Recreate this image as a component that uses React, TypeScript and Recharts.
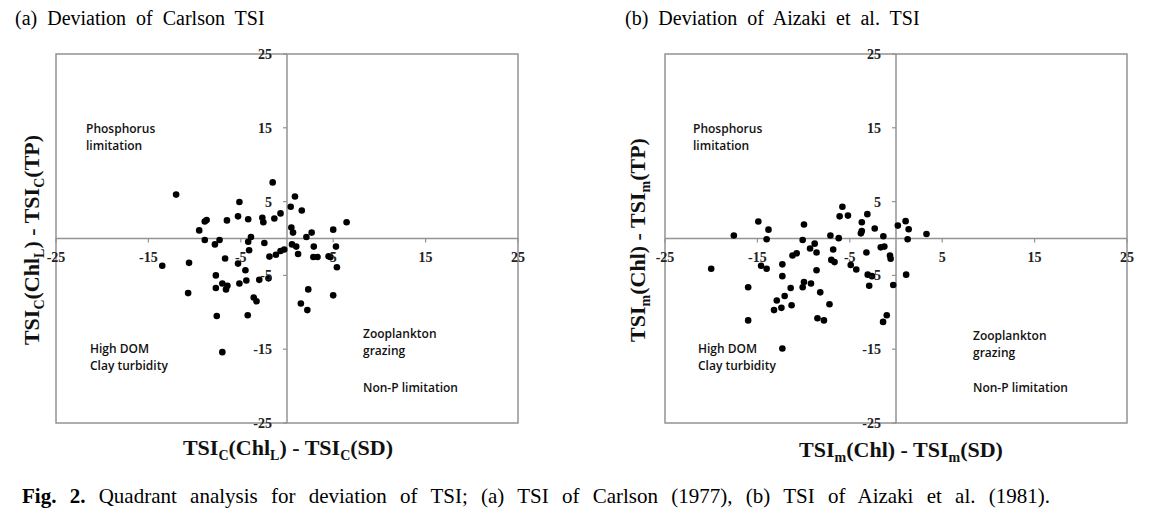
import React from 'react';
import { ScatterChart, Scatter, XAxis, YAxis, ReferenceLine, ReferenceArea } from 'recharts';

// (a) Carlson TSI deviations
const carlsonX = [
  -12.0, -1.55, 0.86, -5.15, 0.4, 1.6, -0.7, -5.3, -2.67, -1.37, -4.2, -6.5, -8.7, -8.9, -2.56, 6.45, -9.5,
  0.47, 0.65, 2.67, 5.0, 2.1, -3.9, -8.9, -7.3, -7.8, -4.2, -2.45, 0.54, 1.0, 2.9, 5.3, -0.3, -0.7, -1.2,
  -1.9, -4.1, 1.2, 2.85, 3.3, 4.5, 4.7, -6.7, -10.6, -13.5, 5.4, -5.3, -4.5, -7.7, -2.0, -3.0, -4.4, -5.15,
  -7.0, -6.45, -7.7, -6.6, 2.3, -10.7, 5.0, -3.6, -3.3, 1.5, 2.2, -7.6, -4.25, -7.0,
];
const carlsonY = [
  5.95, 7.6, 5.7, 4.95, 4.3, 3.8, 3.4, 3.0, 2.8, 2.7, 2.6, 2.45, 2.5, 2.3, 2.2, 2.2, 1.1,
  1.5, 0.8, 0.8, 1.2, 0.2, 0.2, -0.2, -0.2, -0.8, -0.45, -0.6, -0.8, -1.1, -1.1, -1.1, -1.5, -1.7, -2.2,
  -2.45, -1.6, -2.1, -2.5, -2.5, -2.4, -2.5, -2.7, -3.3, -3.7, -3.9, -3.4, -4.3, -5.0, -5.4, -5.6, -5.7, -6.1,
  -6.1, -6.4, -6.7, -6.9, -6.9, -7.4, -7.7, -8.0, -8.5, -8.8, -9.7, -10.5, -10.4, -15.4,
];

// (b) Aizaki et al. TSI deviations
const aizakiX = [
  -20.0, -17.55, -14.9, -13.8, -14.0, -14.6, -14.0, -16.0, -16.0, -12.3, -12.3, -12.3, -12.9, -12.05, -13.2,
  -12.4, -11.3, -11.4, -11.2, -10.75, -9.96, -10.1, -10.1, -9.96, -9.2, -9.3, -8.8, -8.6, -8.6, -8.2, -8.5,
  -7.8, -7.1, -7.2, -6.8, -7.0, -6.65, -6.2, -6.1, -5.8, -5.2, -4.9, -4.3, -3.7, -3.1, -3.7, -3.8, -3.2,
  -3.06, -2.6, -2.9, -2.3, -1.65, -1.26, -1.37, -0.65, -0.58, -0.3, -1.0, -1.4, 0.2, 1.04, 1.37, 1.26, 1.1, 3.3,
];
const aizakiY = [
  -4.1, 0.4, 2.3, 1.2, -0.1, -3.7, -4.1, -6.6, -11.1, -14.9, -3.5, -5.1, -8.4, -7.8, -9.7,
  -9.4, -9.05, -6.7, -2.3, -2.0, 1.9, -0.2, -6.6, -5.9, -6.1, -1.35, -0.7, -1.9, -4.3, -7.3, -10.8,
  -11.1, 0.4, -8.9, -1.5, -2.9, -3.2, 0.05, 3.0, 4.3, 3.1, -3.6, -4.2, 2.2, 3.3, 1.0, 0.7, -1.9,
  -4.9, -5.1, -6.4, 1.35, -1.2, -1.1, 0.3, -2.3, -2.75, -6.3, -10.4, -11.3, 1.75, 2.35, 1.26, -0.1, -4.9, 0.6,
];

const axisTicks = [-25, -15, -5, 5, 15, 25];

const pointsA = carlsonX.map((x, i) => ({ x, y: carlsonY[i] }));
const pointsB = aizakiX.map((x, i) => ({ x, y: aizakiY[i] }));

const SERIF = '"Liberation Serif", "Times New Roman", serif';
const SANS = '"Open Sans", "Noto Sans", sans-serif';
const GRAY = '#939393';

const CH_H = 470;
const PLOT_TOP = 54;
const PLOT_BOTTOM = 423;
const HALF_H = (PLOT_BOTTOM - PLOT_TOP) / 2;
const AX_SIZE = 30;

// ticks sit on the zero lines (axes cross at 0,0 like Excel)
const makeYTick = (halfW: number) => (props: any) => {
  const { x, y, payload } = props;
  const cx = x + halfW;
  return (
    <g>
      <line x1={cx - 4} x2={cx} y1={y} y2={y} stroke={GRAY} strokeWidth={1.2} />
      <text x={cx - 15} y={y} dy={5} textAnchor="end" fontFamily={SERIF} fontSize={14} fontWeight="bold" fill="#222">
        {payload.value}
      </text>
    </g>
  );
};

const makeXTick = () => (props: any) => {
  const { x, y, payload } = props;
  const cy = y - HALF_H;
  return (
    <g>
      <line x1={x} x2={x} y1={cy} y2={cy + 4} stroke={GRAY} strokeWidth={1.2} />
      <text x={x} y={cy + 23} textAnchor="middle" fontFamily={SERIF} fontSize={14} fontWeight="bold" fill="#222">
        {payload.value}
      </text>
    </g>
  );
};

function Note({ left, top, lines }: { left: number; top: number; lines: string[] }) {
  return (
    <div style={{ position: 'absolute', left, top, fontFamily: SANS, fontSize: 12, fontWeight: 600, lineHeight: '17px', color: '#111' }}>
      {lines.map((l, i) => (
        <div key={i} style={{ whiteSpace: 'nowrap' }}>{l}</div>
      ))}
    </div>
  );
}

const sub: React.CSSProperties = { fontSize: 14, verticalAlign: '-5px', lineHeight: 0 };
const axisTitle: React.CSSProperties = { position: 'absolute', fontFamily: SERIF, fontSize: 22, fontWeight: 'bold', whiteSpace: 'nowrap', color: '#111' };

function Quadrant({ data, width, left, right }: { data: { x: number; y: number }[]; width: number; left: number; right: number }) {
  const halfW = (width - left - right) / 2;
  return (
    <ScatterChart width={width} height={CH_H}
      margin={{ top: PLOT_TOP, bottom: CH_H - PLOT_BOTTOM - AX_SIZE, left: left - AX_SIZE, right }}>
      <XAxis type="number" dataKey="x" domain={[-25, 25]} ticks={axisTicks} height={AX_SIZE} axisLine={false}
        tickSize={0} tickMargin={0} tick={makeXTick()} allowDataOverflow interval={0} />
      <YAxis type="number" dataKey="y" domain={[-25, 25]} ticks={axisTicks} width={AX_SIZE} axisLine={false}
        tickSize={0} tickMargin={0} tick={makeYTick(halfW)} allowDataOverflow interval={0} />
      <ReferenceArea x1={-25} x2={25} y1={-25} y2={25} fill="none" fillOpacity={0} stroke={GRAY} strokeWidth={1.5} />
      <ReferenceLine x={0} stroke={GRAY} strokeWidth={1.5} />
      <ReferenceLine y={0} stroke={GRAY} strokeWidth={1.5} />
      <Scatter data={data} fill="#000" isAnimationActive={false} shape={(p: any) => <circle cx={p.cx} cy={p.cy} r={3.3} fill="#000" />} />
    </ScatterChart>
  );
}

export default function App() {
  return (
    <div style={{ position: 'absolute', left: 0, top: 0, width: 1150, height: 522, background: '#fff', overflow: 'hidden' }}>
      <div style={{ position: 'absolute', left: 15, top: 7, fontFamily: SERIF, fontSize: 20, wordSpacing: 5, whiteSpace: 'nowrap' }}>
        (a) Deviation of Carlson TSI
      </div>
      <div style={{ position: 'absolute', left: 625, top: 7, fontFamily: SERIF, fontSize: 20, wordSpacing: 5, whiteSpace: 'nowrap' }}>
        (b) Deviation of Aizaki et al. TSI
      </div>

      <div style={{ position: 'absolute', left: 0, top: 0 }}>
        <Quadrant data={pointsA} width={560} left={56} right={42} />
      </div>
      <div style={{ position: 'absolute', left: 600, top: 0 }}>
        <Quadrant data={pointsB} width={550} left={65} right={23} />
      </div>

      <Note left={86} top={120} lines={['Phosphorus', 'limitation']} />
      <Note left={90} top={340} lines={['High DOM', 'Clay turbidity']} />
      <Note left={363} top={325} lines={['Zooplankton', 'grazing']} />
      <Note left={363} top={379} lines={['Non-P limitation']} />

      <Note left={693} top={120} lines={['Phosphorus', 'limitation']} />
      <Note left={698} top={340} lines={['High DOM', 'Clay turbidity']} />
      <Note left={973} top={327} lines={['Zooplankton', 'grazing']} />
      <Note left={973} top={379} lines={['Non-P limitation']} />

      {/* axis titles */}
      <div style={{ ...axisTitle, left: 288, top: 435, transform: 'translateX(-50%)' }}>
        TSI<span style={sub}>C</span>(Chl<span style={sub}>L</span>) - TSI<span style={sub}>C</span>(SD)
      </div>
      <div style={{ ...axisTitle, left: 32, top: 240, transform: 'translate(-50%, -50%) rotate(-90deg)' }}>
        TSI<span style={sub}>C</span>(Chl<span style={sub}>L</span>) - TSI<span style={sub}>C</span>(TP)
      </div>
      <div style={{ ...axisTitle, left: 901, top: 437, transform: 'translateX(-50%)' }}>
        TSI<span style={sub}>m</span>(Chl) - TSI<span style={sub}>m</span>(SD)
      </div>
      <div style={{ ...axisTitle, left: 638, top: 240, transform: 'translate(-50%, -50%) rotate(-90deg)' }}>
        TSI<span style={sub}>m</span>(Chl) - TSI<span style={sub}>m</span>(TP)
      </div>

      <div style={{ position: 'absolute', left: 22, top: 484, fontFamily: SERIF, fontSize: 21, wordSpacing: 8, whiteSpace: 'nowrap' }}>
        <b>Fig. 2.</b> Quadrant analysis for deviation of TSI; (a) TSI of Carlson (1977), (b) TSI of Aizaki et al. (1981).
      </div>
    </div>
  );
}
